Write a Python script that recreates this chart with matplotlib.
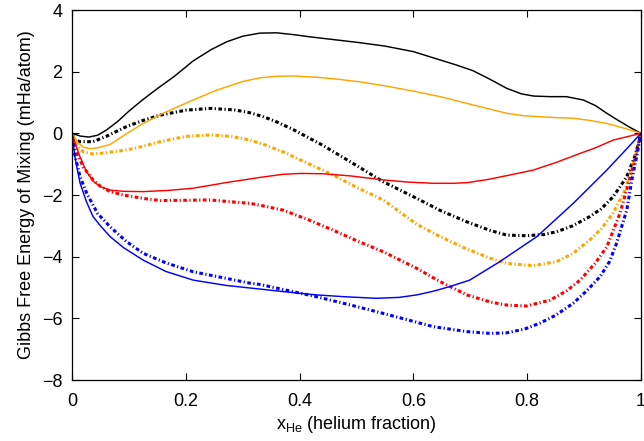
"""
Gibbs free energy of mixing vs helium fraction (H-He mixture).
Solid curves and dash-dot curves for four conditions, gnuplot-like styling.
"""

import matplotlib

matplotlib.use("Agg")
import matplotlib.pyplot as plt

# --- Data (x = helium fraction, y = mHa/atom) ---
BLACK_SOLID_X = [0, .015, .03, .045, .06, .08, .1, .125, .15, .18, .213, .245, .272, .3, .33, .36, .39, .418,
                 .46, .506, .55, .6, .647, .675, .705, .735, .764, .79, .811, .84, .869, .899, .92, .94, .96,
                 .98, 1]
BLACK_SOLID_Y = [0, -.09, -.12, -.06, .1, .38, .72, 1.1, 1.45, 1.85, 2.35, 2.72, 2.97, 3.15, 3.25, 3.26, 3.2,
                 3.13, 3.04, 2.94, 2.83, 2.65, 2.38, 2.22, 2.03, 1.75, 1.46, 1.28, 1.21, 1.19, 1.19, 1.08, .9,
                 .65, .42, .2, 0]

ORANGE_SOLID_X = [0, .01, .02, .032, .045, .067, .095, .125, .16, .213, .254, .272, .3, .33, .36, .389, .43,
                  .47, .506, .55, .6, .647, .705, .764, .795, .822, .85, .881, .91, .94, .97, 1]
ORANGE_SOLID_Y = [0, -.3, -.45, -.5, -.47, -.36, -.02, .32, .65, 1.08, 1.4, 1.51, 1.68, 1.8, 1.85, 1.86, 1.82,
                  1.75, 1.67, 1.54, 1.37, 1.19, .92, .65, .57, .54, .51, .49, .42, .32, .17, 0]

RED_SOLID_X = [0, .007, .014, .025, .037, .05, .067, .09, .125, .17, .213, .27, .33, .37, .401, .44, .489,
               .547, .59, .635, .67, .694, .73, .77, .811, .85, .893, .92, .951, 1]
RED_SOLID_Y = [0, -.4, -.76, -1.22, -1.55, -1.73, -1.84, -1.88, -1.89, -1.85, -1.78, -1.6, -1.43, -1.33,
               -1.3, -1.31, -1.38, -1.51, -1.58, -1.62, -1.62, -1.6, -1.5, -1.35, -1.19, -.95, -.65, -.47,
               -.22, 0]

BLUE_SOLID_X = [0, .005, .014, .025, .037, .05, .067, .09, .125, .165, .213, .27, .33, .38, .43, .48, .535,
                .575, .606, .635, .664, .699, .752, .817, .881, .94, .97, 1]
BLUE_SOLID_Y = [0, -.75, -1.6, -2.2, -2.7, -3.0, -3.35, -3.7, -4.11, -4.48, -4.76, -4.93, -5.05, -5.15, -5.24,
                -5.3, -5.35, -5.32, -5.24, -5.12, -4.97, -4.76, -4.16, -3.35, -2.27, -1.19, -.6, 0]

BLACK_DD_X = [0, .005, .014, .037, .06, .096, .125, .155, .2, .243, .285, .31, .335, .36, .389, .44, .489,
              .547, .606, .647, .694, .735, .764, .799, .83, .852, .88, .91, .93, .951, .975, .99, 1]
BLACK_DD_Y = [0, -.2, -.27, -.27, -.1, .22, .42, .59, .75, .81, .76, .68, .55, .37, .12, -.38, -.92, -1.57,
              -2.11, -2.5, -2.87, -3.15, -3.3, -3.32, -3.28, -3.19, -3.0, -2.7, -2.45, -2.06, -1.41, -.7, 0]

ORANGE_DD_X = [0, .008, .02, .037, .06, .096, .125, .155, .2, .243, .28, .313, .34, .371, .415, .459, .5,
               .547, .606, .647, .694, .735, .764, .811, .852, .88, .91, .93, .951, .972, .988, 1]
ORANGE_DD_Y = [0, -.4, -.6, -.67, -.63, -.54, -.42, -.27, -.1, -.05, -.1, -.22, -.38, -.6, -.98, -1.35,
               -1.75, -2.16, -2.95, -3.35, -3.75, -4.05, -4.22, -4.29, -4.16, -3.9, -3.46, -3.1, -2.59,
               -1.84, -.9, 0]

RED_DD_X = [0, .008, .02, .037, .05, .067, .09, .125, .155, .2, .243, .28, .313, .33, .371, .415, .459, .5,
            .547, .606, .647, .694, .735, .764, .799, .84, .87, .893, .92, .94, .963, .978, .99, 1]
RED_DD_Y = [0, -.6, -1.1, -1.51, -1.72, -1.89, -2.0, -2.11, -2.18, -2.17, -2.16, -2.22, -2.27, -2.33,
            -2.49, -2.8, -3.14, -3.48, -3.84, -4.38, -4.81, -5.24, -5.47, -5.57, -5.6, -5.41, -5.1, -4.76,
            -4.2, -3.68, -2.6, -1.62, -.8, 0]

BLUE_DD_X = [0, .005, .014, .026, .045, .067, .095, .125, .165, .213, .27, .313, .33, .38, .43, .49, .547,
             .59, .635, .694, .735, .764, .795, .822, .85, .881, .905, .928, .945, .957, .975, .984, .993, 1]
BLUE_DD_Y = [0, -.7, -1.4, -1.95, -2.6, -3.03, -3.5, -3.89, -4.2, -4.49, -4.7, -4.86, -4.9, -5.1, -5.3,
             -5.57, -5.84, -6.05, -6.27, -6.43, -6.49, -6.47, -6.35, -6.16, -5.9, -5.51, -5.1, -4.65, -4.15,
             -3.57, -2.49, -1.51, -.7, 0]

X_TICKS = [0, 0.2, 0.4, 0.6, 0.8, 1.0]
X_TICK_LABELS = ["0", "0.2", "0.4", "0.6", "0.8", "1"]
Y_TICKS = [-8, -6, -4, -2, 0, 2, 4]

ORANGE = "#ffa500"
RED = "#ff0000"
BLUE = "#0000ff"
BLACK = "#000000"

DASHDOT = (0, (1.2, 0.8, 0.4, 0.8))

plt.rcParams.update(
    {
        "font.family": "Liberation Sans",
        "font.size": 13,
        "mathtext.fontset": "custom",
        "mathtext.rm": "Liberation Sans",
        "mathtext.it": "Liberation Sans",
        "mathtext.default": "regular",
    }
)


def main():
    fig = plt.figure(figsize=(6.44, 4.41), dpi=100)
    ax = fig.add_axes([0.1118, 0.1383, 0.8835, 0.8390])

    solids = [
        (BLACK_SOLID_X, BLACK_SOLID_Y, BLACK),
        (ORANGE_SOLID_X, ORANGE_SOLID_Y, ORANGE),
        (RED_SOLID_X, RED_SOLID_Y, RED),
        (BLUE_SOLID_X, BLUE_SOLID_Y, BLUE),
    ]
    dashed = [
        (BLACK_DD_X, BLACK_DD_Y, BLACK),
        (ORANGE_DD_X, ORANGE_DD_Y, ORANGE),
        (RED_DD_X, RED_DD_Y, RED),
        (BLUE_DD_X, BLUE_DD_Y, BLUE),
    ]
    for x, y, c in dashed:
        ax.plot(x, y, color=c, linewidth=2.2, linestyle=DASHDOT, solid_joinstyle="round")
    for x, y, c in solids:
        ax.plot(x, y, color=c, linewidth=1.05, solid_joinstyle="round")

    ax.set_xlim(0, 1)
    ax.set_ylim(-8, 4)
    ax.set_xticks(X_TICKS)
    ax.set_xticklabels(X_TICK_LABELS)
    ax.set_yticks(Y_TICKS)
    ax.tick_params(direction="in", top=True, right=True, length=5, width=0.8)
    ax.tick_params(axis="x", pad=9)
    ax.tick_params(axis="y", pad=7)
    for spine in ax.spines.values():
        spine.set_linewidth(0.9)

    ax.set_xlabel(r"x$_{He}$ (helium fraction)", labelpad=3)
    ax.set_ylabel("Gibbs Free Energy of Mixing (mHa/atom)", labelpad=5)

    fig.savefig("out.png", dpi=100)
    plt.close(fig)


if __name__ == "__main__":
    main()
